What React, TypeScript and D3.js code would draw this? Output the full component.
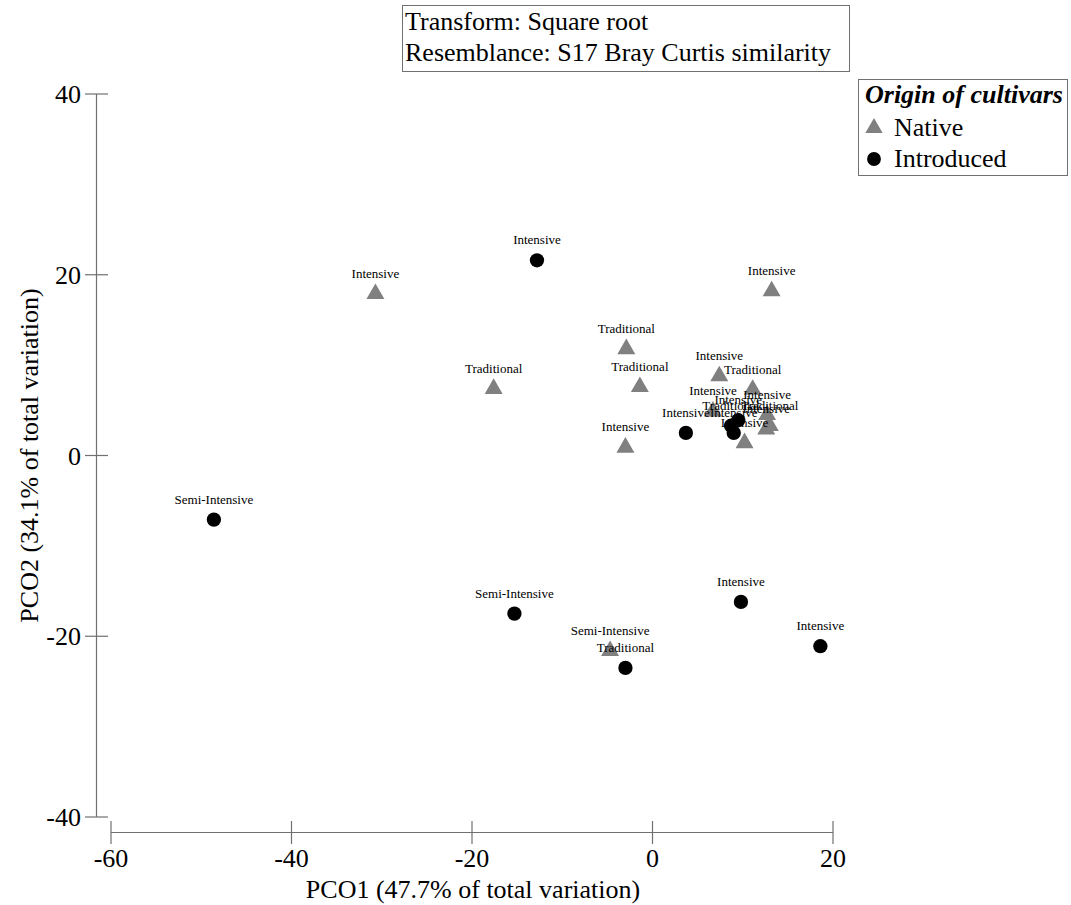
import React from "react";
import * as d3 from "d3";

const nativeX = [-30.7, -17.6, -2.9, -1.4, -3.0, 13.2, 7.4, 11.1, 6.7, 12.7, 13.0, 12.6, 10.2, -4.7];
const nativeY = [18.0, 7.5, 11.9, 7.7, 1.0, 18.3, 8.9, 7.4, 5.0, 4.6, 3.4, 3.0, 1.5, -21.5];
const nativeLabels = ["Intensive", "Traditional", "Traditional", "Traditional", "Intensive", "Intensive", "Intensive", "Traditional", "Intensive", "Intensive", "Traditional", "Intensive", "Intensive", "Semi-Intensive"];

const introX = [-12.8, -48.6, -15.3, -3.0, 9.8, 18.6, 3.7, 9.5, 8.7, 9.0];
const introY = [21.6, -7.1, -17.5, -23.5, -16.2, -21.1, 2.5, 3.9, 3.3, 2.5];
const introLabels = ["Intensive", "Semi-Intensive", "Semi-Intensive", "Traditional", "Intensive", "Intensive", "Intensive", "Intensive", "Traditional", "Intensive"];

const xTicks = [-60, -40, -20, 0, 20];
const yTicks = [-40, -20, 0, 20, 40];

const FONT = "'Liberation Serif', 'Times New Roman', serif";
const AXIS = "#707070";
const GRAY = "#808080";

export default function App() {
  const x = d3.scaleLinear().domain([-60, 20]).range([111, 833]);
  const y = d3.scaleLinear().domain([-40, 40]).range([817, 94]);
  const tri = d3.symbol().type(d3.symbolTriangle).size(140)();
  const circ = d3.symbol().type(d3.symbolCircle).size(160)();
  const triLeg = d3.symbol().type(d3.symbolTriangle).size(130)();
  const circLeg = d3.symbol().type(d3.symbolCircle).size(150)();

  return (
    <svg width={1071} height={905} style={{ position: "absolute", left: 0, top: 0, background: "#fff" }} fontFamily={FONT}>
      <rect x={0} y={0} width={1071} height={905} fill="#fff" />
      {/* title box */}
      <rect x={402.5} y={5.5} width={447} height={66} fill="#fff" stroke={AXIS} strokeWidth={1} />
      <text x={405} y={30} fontSize={26} fill="#000">Transform: Square root</text>
      <text x={405} y={61} fontSize={26} fill="#000">Resemblance: S17 Bray Curtis similarity</text>

      {/* legend */}
      <rect x={858.5} y={79.5} width={209} height={96} fill="#fff" stroke={AXIS} strokeWidth={1} />
      <text x={865} y={103} fontSize={26} fontWeight="bold" fontStyle="italic" fill="#000">Origin of cultivars</text>
      <path d={triLeg!} transform={`translate(874,128)`} fill={GRAY} />
      <text x={894} y={136} fontSize={26} fill="#000">Native</text>
      <path d={circLeg!} transform={`translate(874,159)`} fill="#000" />
      <text x={894} y={167} fontSize={26} fill="#000">Introduced</text>

      {/* y axis */}
      <line x1={96.5} x2={96.5} y1={y(40)} y2={y(-40)} stroke={AXIS} strokeWidth={1.2} />
      {yTicks.map((t) => (
        <g key={"y" + t}>
          <line x1={85} x2={108} y1={y(t)} y2={y(t)} stroke={AXIS} strokeWidth={1.2} />
          <text x={81} y={y(t) + 9} fontSize={26} textAnchor="end" fill="#000">{t}</text>
        </g>
      ))}
      <text transform={`translate(38,${y(0)}) rotate(-90)`} fontSize={26} textAnchor="middle" fill="#000">PCO2 (34.1% of total variation)</text>

      {/* x axis */}
      <line x1={x(-60)} x2={x(20)} y1={832.5} y2={832.5} stroke={AXIS} strokeWidth={1.2} />
      {xTicks.map((t) => (
        <g key={"x" + t}>
          <line x1={x(t)} x2={x(t)} y1={821} y2={844} stroke={AXIS} strokeWidth={1.2} />
          <text x={x(t)} y={867} fontSize={26} textAnchor="middle" fill="#000">{t}</text>
        </g>
      ))}
      <text x={473} y={898} fontSize={26} textAnchor="middle" fill="#000">PCO1 (47.7% of total variation)</text>

      {/* points */}
      {nativeX.map((v, i) => (
        <path key={"n" + i} d={tri!} transform={`translate(${x(v)},${y(nativeY[i]) + 1})`} fill={GRAY} />
      ))}
      {introX.map((v, i) => (
        <path key={"c" + i} d={circ!} transform={`translate(${x(v)},${y(introY[i])})`} fill="#000" />
      ))}
      {/* labels */}
      {nativeX.map((v, i) => (
        <text key={"nl" + i} x={x(v)} y={y(nativeY[i]) - 15} fontSize={13} textAnchor="middle" fill="#000">{nativeLabels[i]}</text>
      ))}
      {introX.map((v, i) => (
        <text key={"cl" + i} x={x(v)} y={y(introY[i]) - 16} fontSize={13} textAnchor="middle" fill="#000">{introLabels[i]}</text>
      ))}
    </svg>
  );
}
